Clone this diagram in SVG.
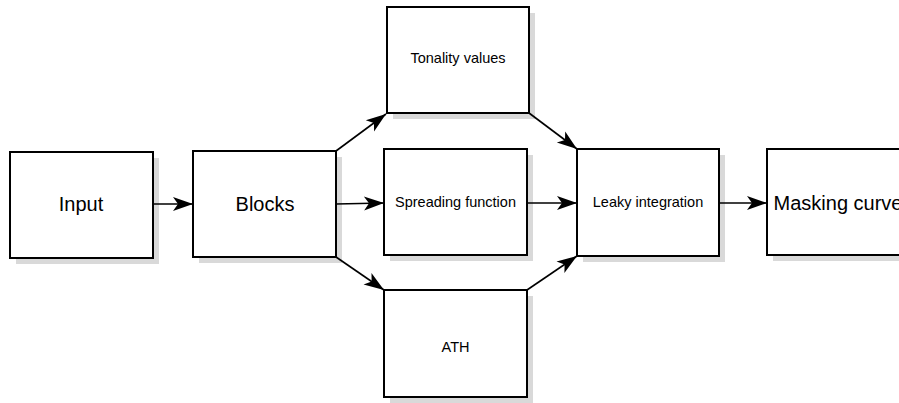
<svg xmlns="http://www.w3.org/2000/svg" width="899" height="403" viewBox="0 0 899 403">
<defs>
<style>
.shadow{fill:#d9d9d9;stroke:none}
.box{fill:#ffffff;stroke:#000000;stroke-width:2}
.big{font-family:"Liberation Sans",Arial,sans-serif;font-size:20px;fill:#000;text-anchor:middle}
.small{font-family:"Liberation Sans",Arial,sans-serif;font-size:14.5px;fill:#000;text-anchor:middle}
.conn{stroke:#000;stroke-width:1.6;fill:none;marker-end:url(#arrow)}
</style>
<marker id="arrow" markerUnits="userSpaceOnUse" markerWidth="21" markerHeight="15" refX="20" refY="7" orient="auto" overflow="visible">
<path d="M0,0 L20,7 L0,14 L5,7 Z" fill="#000"/>
</marker>
</defs>
<rect width="899" height="403" fill="#ffffff"/>

<g id="input">
<rect class="shadow" x="16" y="158" width="143" height="106"/>
<rect class="box" x="10" y="152" width="143" height="106"/>
<text class="big" x="81" y="211">Input</text>
</g>

<g id="blocks">
<rect class="shadow" x="199" y="157" width="143" height="106"/>
<rect class="box" x="193" y="151" width="143" height="106"/>
<text class="big" x="265" y="211">Blocks</text>
</g>

<g id="tonality">
<rect class="shadow" x="393" y="13" width="142" height="106"/>
<rect class="box" x="387" y="7" width="142" height="106"/>
<text class="small" x="458" y="63">Tonality values</text>
</g>

<g id="spreading">
<rect class="shadow" x="390" y="155" width="143" height="106"/>
<rect class="box" x="384" y="149" width="143" height="106"/>
<text class="small" x="455.5" y="207">Spreading function</text>
</g>

<g id="ath">
<rect class="shadow" x="390" y="296" width="143" height="107"/>
<rect class="box" x="384" y="290" width="143" height="107"/>
<text class="small" x="455.5" y="352">ATH</text>
</g>

<g id="leaky">
<rect class="shadow" x="583" y="155" width="142" height="107"/>
<rect class="box" x="577" y="149" width="142" height="107"/>
<text class="small" x="648" y="207">Leaky integration</text>
</g>

<g id="masking">
<rect class="shadow" x="773" y="155" width="142" height="106"/>
<rect class="box" x="767" y="149" width="142" height="106"/>
<text class="big" x="838" y="210">Masking curve</text>
</g>

<g id="connectors">
<line class="conn" x1="153" y1="204" x2="193" y2="204"/>
<line class="conn" x1="336" y1="204" x2="384" y2="203"/>
<line class="conn" x1="336" y1="151" x2="386" y2="114"/>
<line class="conn" x1="336" y1="257" x2="384" y2="290"/>
<line class="conn" x1="529" y1="113" x2="577" y2="149"/>
<line class="conn" x1="527" y1="203" x2="577" y2="203"/>
<line class="conn" x1="527" y1="290" x2="577" y2="256"/>
<line class="conn" x1="719" y1="203" x2="767" y2="203"/>
</g>
</svg>
